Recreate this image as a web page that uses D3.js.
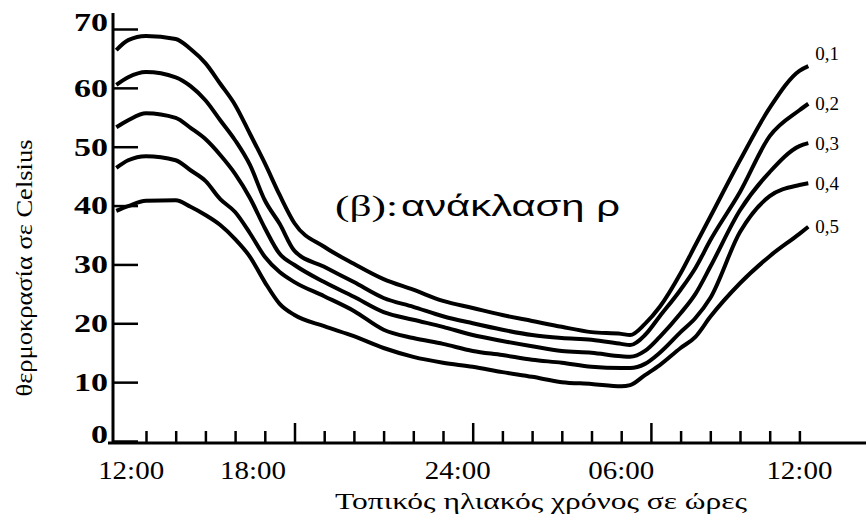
<!DOCTYPE html>
<meta charset="utf-8">
<script src="https://d3js.org/d3.v7.min.js"></script>
<style>
  body { margin: 0; background: #fff; }
  svg { display: block; }
</style>
<svg id="chart" width="866" height="521"></svg>
<script>

// hours counted from local solar noon (12:00 = 0)
var hours = [0, 0.4, 1, 2, 2.5, 3, 3.5, 4, 4.5, 5, 5.5, 6, 7, 8, 9, 10, 11, 12, 13, 14, 15, 16, 17, 17.3, 17.8, 18.3, 19, 19.5, 20, 21, 22, 23, 23.3];

// temperature (Celsius) for each reflectance rho
var rho01 = [66.4, 68.1, 68.8, 68.3, 66.6, 64.2, 60.7, 57.1, 52.2, 47.2, 41.8, 37.0, 33.0, 30.1, 27.5, 25.7, 23.8, 22.6, 21.4, 20.4, 19.4, 18.5, 18.2, 18.0, 19.9, 22.8, 28.5, 33.3, 38.1, 47.7, 56.6, 62.9, 63.7];
var rho02 = [60.5, 61.8, 62.7, 61.8, 60.3, 57.9, 54.5, 51.1, 46.9, 40.9, 36.9, 32.3, 29.6, 27.0, 24.3, 22.8, 21.2, 20.0, 18.9, 18.0, 17.5, 17.2, 16.5, 16.3, 18.0, 21.2, 25.7, 29.4, 34.1, 42.3, 51.8, 56.2, 57.3];
var rho03 = [53.3, 54.5, 55.7, 54.9, 53.2, 51.3, 48.6, 45.4, 41.3, 36.2, 31.8, 29.9, 27.0, 24.5, 21.9, 20.6, 19.4, 18.0, 17.0, 16.1, 15.3, 15.0, 14.4, 14.3, 15.3, 17.7, 21.7, 25.0, 29.6, 39.2, 45.7, 50.1, 50.6];
var rho04 = [46.4, 47.7, 48.4, 47.7, 46.0, 44.2, 41.1, 38.9, 35.3, 31.3, 28.7, 27.0, 24.6, 22.1, 18.9, 17.5, 16.5, 15.3, 14.6, 13.8, 13.3, 12.6, 12.4, 12.4, 13.1, 15.0, 18.5, 20.9, 24.3, 35.5, 41.6, 43.5, 43.8];
var rho05 = [39.1, 39.9, 40.8, 40.9, 39.8, 38.4, 36.7, 34.3, 31.3, 27.0, 23.3, 21.4, 19.5, 17.8, 15.8, 14.3, 13.3, 12.6, 11.7, 10.9, 10.0, 9.7, 9.3, 9.5, 11.2, 12.9, 15.8, 17.7, 21.1, 26.8, 31.4, 35.2, 36.4];

var seriesNames = ["0,1", "0,2", "0,3", "0,4", "0,5"];
var seriesValues = [rho01, rho02, rho03, rho04, rho05];

var yTicks = [0, 10, 20, 30, 40, 50, 60, 70];
var xTickHours = d3.range(1, 24);
var xTickLabels = ["12:00", "18:00", "24:00", "06:00", "12:00"];
var xLabelHours = [0.5, 4.6, 11.5, 17, 23];

var svg = d3.select("#chart");
var serif = "'Liberation Serif', 'DejaVu Serif', serif";

var x = d3.scaleLinear().domain([0, 24]).range([116.3, 829.1]);
var y = d3.scaleLinear().domain([0, 70]).range([441, 29]);

// y axis, ticks pointing inwards
var yAxis = d3.axisLeft(y)
  .tickValues(yTicks)
  .tickSize(-25)
  .tickSizeOuter(0)
  .tickPadding(5);

var gy = svg.append("g")
  .attr("transform", "translate(113,0)")
  .call(yAxis);
gy.select(".domain").remove();
gy.selectAll(".tick line").attr("stroke", "#000").attr("stroke-width", 2.5);
gy.selectAll(".tick text")
  .attr("fill", "#000")
  .attr("dy", function(d) { return d == 0 || d == 70 ? "0.05em" : "0.32em"; })
  .style("font-family", serif)
  .style("font-size", "26px")
  .style("font-weight", "bold")
  .attr("textLength", function(d) { return d < 10 ? 17 : 34; })
  .attr("lengthAdjust", "spacingAndGlyphs");

svg.append("line")
  .attr("x1", 113).attr("x2", 113)
  .attr("y1", 13).attr("y2", y(0) + 2)
  .attr("stroke", "#000").attr("stroke-width", 3);

// x axis, hourly ticks pointing up
var xAxis = d3.axisBottom(x)
  .tickValues(xTickHours)
  .tickSize(-12)
  .tickSizeOuter(0)
  .tickFormat("");

var gx = svg.append("g")
  .attr("transform", "translate(0," + (y(0) + 2) + ")")
  .call(xAxis);
gx.select(".domain").remove();
gx.selectAll(".tick line")
  .attr("stroke", "#000")
  .attr("stroke-width", 2.5)
  .attr("y2", function(d) { return d % 6 == 0 ? -20 : -12; });

svg.append("line")
  .attr("x1", 108).attr("x2", 866)
  .attr("y1", y(0) + 2).attr("y2", y(0) + 2)
  .attr("stroke", "#000").attr("stroke-width", 3);

svg.append("g")
  .selectAll("text")
  .data(xTickLabels)
  .enter()
  .append("text")
    .attr("x", function(d, i) { return x(xLabelHours[i]); })
    .attr("y", 479)
    .attr("text-anchor", "middle")
    .style("font-family", serif)
    .style("font-size", "25px")
    .attr("textLength", 66)
    .attr("lengthAdjust", "spacingAndGlyphs")
    .text(function(d) { return d; });

// curves
var line = d3.line()
  .x(function(d, i) { return x(hours[i]); })
  .y(function(d) { return y(d); })
  .curve(d3.curveMonotoneX);

svg.append("g")
  .selectAll("path")
  .data(seriesValues)
  .enter()
  .append("path")
    .attr("d", line)
    .attr("fill", "none")
    .attr("stroke", "#000")
    .attr("stroke-width", 4)
    .attr("stroke-linejoin", "round");

// rho labels at the end of each curve
var last = hours.length - 1;
svg.append("g")
  .selectAll("text")
  .data(seriesNames)
  .enter()
  .append("text")
    .attr("x", x(hours[last]) + 7)
    .attr("y", function(d, i) { return y(seriesValues[i][last]) + (i == 0 ? -13 : 0); })
    .attr("dy", "0.35em")
    .style("font-family", serif)
    .style("font-size", "19px")
    .text(function(d) { return d; });

// inset caption
svg.append("text")
  .attr("x", 335).attr("y", 216)
  .style("font-family", serif)
  .style("font-size", "30px")
  .attr("textLength", 63)
  .attr("lengthAdjust", "spacingAndGlyphs")
  .text("(β):");
svg.append("text")
  .attr("x", 401).attr("y", 216)
  .style("font-family", "'Liberation Sans', Arial, sans-serif")
  .style("font-size", "30px")
  .attr("textLength", 219)
  .attr("lengthAdjust", "spacingAndGlyphs")
  .text("ανάκλαση ρ");

// axis titles
svg.append("text")
  .attr("x", 541).attr("y", 509)
  .attr("text-anchor", "middle")
  .style("font-family", serif)
  .style("font-size", "23px")
  .attr("textLength", 412)
  .attr("lengthAdjust", "spacingAndGlyphs")
  .text("Τοπικός ηλιακός χρόνος σε ώρες");

svg.append("text")
  .attr("transform", "translate(32,268) rotate(-90)")
  .attr("text-anchor", "middle")
  .style("font-family", serif)
  .style("font-size", "24px")
  .attr("textLength", 257)
  .attr("lengthAdjust", "spacingAndGlyphs")
  .text("θερμοκρασία σε Celsius");

</script>
